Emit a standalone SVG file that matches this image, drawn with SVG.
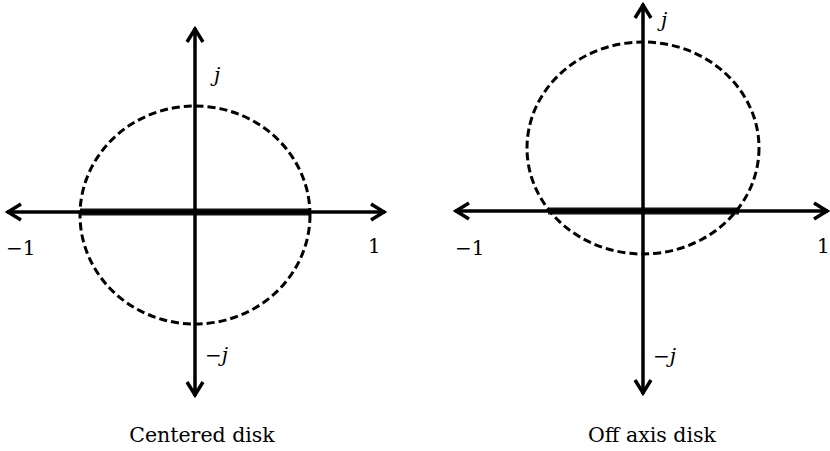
<svg xmlns="http://www.w3.org/2000/svg" width="830" height="451" viewBox="0 0 830 451">
<style>
.axis{stroke:#000;stroke-width:3.5;fill:none;marker-end:url(#ah)}
.seg{stroke:#111;stroke-width:7}
.disk{fill:none;stroke:#000;stroke-width:3;stroke-dasharray:8 4}
.lbl{font-family:"DejaVu Serif",serif;font-size:20px;fill:#000}
.it{font-style:italic}
.cap{font-family:"DejaVu Serif",serif;font-size:20.5px;text-anchor:middle;fill:#000}
</style>
<defs>
<marker id="ah" markerUnits="userSpaceOnUse" markerWidth="24" markerHeight="24" refX="16" refY="10" orient="auto" viewBox="0 0 24 20" overflow="visible">
<path d="M2,2 L15,10 L2,18" fill="none" stroke="#000" stroke-width="3.5"/>
</marker>
</defs>
<g id="centered">
<g id="centered-axes">
<line class="seg" x1="80" y1="212" x2="310" y2="212"/>
<line class="axis" x1="195" y1="212" x2="7" y2="212"/>
<line class="axis" x1="195" y1="212" x2="385" y2="212"/>
<line class="axis" x1="195" y1="212" x2="195" y2="28"/>
<line class="axis" x1="195" y1="212" x2="195" y2="396"/>
</g>
<ellipse id="centered-disk" class="disk" cx="195" cy="215" rx="115" ry="109"/>
<text class="lbl" x="6" y="255">−1</text>
<text class="lbl" x="368" y="253">1</text>
<text class="lbl it" x="214" y="82">j</text>
<text class="lbl" x="205" y="362">−<tspan class="it">j</tspan></text>
<text class="cap" x="202" y="442">Centered disk</text>
</g>
<g id="offaxis">
<g id="offaxis-axes">
<line class="seg" x1="548" y1="211" x2="739" y2="211"/>
<line class="axis" x1="643" y1="211" x2="455" y2="211"/>
<line class="axis" x1="643" y1="211" x2="828" y2="211"/>
<line class="axis" x1="643" y1="211" x2="643" y2="4"/>
<line class="axis" x1="643" y1="211" x2="643" y2="394"/>
</g>
<ellipse id="offaxis-disk" class="disk" cx="643" cy="148" rx="116" ry="106"/>
<text class="lbl" x="455" y="255">−1</text>
<text class="lbl" x="817" y="253">1</text>
<text class="lbl it" x="661" y="27">j</text>
<text class="lbl" x="653" y="363">−<tspan class="it">j</tspan></text>
<text class="cap" x="652" y="442">Off axis disk</text>
</g>
</svg>
